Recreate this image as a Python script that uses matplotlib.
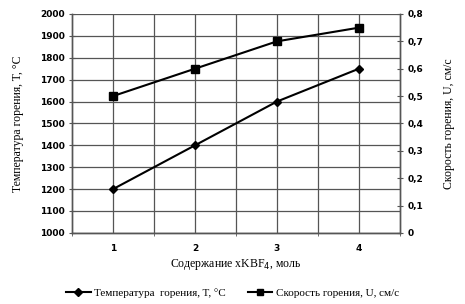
import matplotlib
matplotlib.use("Agg")
import matplotlib.pyplot as plt
from matplotlib.lines import Line2D

x = [1, 2, 3, 4]
temperature = [1200, 1400, 1600, 1750]
speed = [0.5, 0.6, 0.7, 0.75]
x_labels = ["1", "2", "3", "4"]

fig = plt.figure(figsize=(4.65, 3.04), dpi=100)
ax = fig.add_axes([0.155, 0.234, 0.705, 0.72])
ax2 = ax.twinx()

grid_c = "#555555"
ax.set_xlim(0.5, 4.5)
ax.set_ylim(1000, 2000)
ax.set_yticks(range(1000, 2001, 100))
ax2.set_ylim(0, 0.8)
ax2.set_yticks([i / 10 for i in range(9)])
ax2.set_yticklabels(["0"] + [f"0,{i}" for i in range(1, 9)])

ax.set_xticks(x)
ax.set_xticklabels(x_labels)
ax.set_xticks([0.5, 1.5, 2.5, 3.5, 4.5], minor=True)
ax.tick_params(axis="x", which="major", length=0, pad=8)
ax.tick_params(axis="x", which="minor", length=4, direction="inout", color=grid_c)
ax.tick_params(axis="y", length=5, direction="inout", color=grid_c, pad=3)
ax2.tick_params(axis="y", length=5, direction="inout", color=grid_c, pad=3)

for v in range(1000, 2001, 100):
    ax.axhline(v, color=grid_c, lw=0.9, zorder=0)
for v in [1, 1.5, 2, 2.5, 3, 3.5, 4]:
    ax.axvline(v, color=grid_c, lw=0.9, zorder=0)

for a in (ax, ax2):
    a.spines["top"].set_visible(False)
    for s in a.spines.values():
        s.set_color(grid_c)
        s.set_linewidth(1.0)

for lab in ax.get_yticklabels() + ax2.get_yticklabels() + ax.get_xticklabels():
    lab.set_fontfamily("DejaVu Sans")
    lab.set_fontweight("bold")
    lab.set_fontsize(6.5)

ax.plot(x, temperature, color="black", lw=1.5, marker="D", ms=4.5, zorder=3)
ax2.plot(x, speed, color="black", lw=1.5, marker="s", ms=6, zorder=3)

serif = "Liberation Serif"
ax.set_ylabel("Температура горения, T, °C", family=serif, fontsize=8.5, labelpad=11)
ax2.set_ylabel("Скорость горения, U, см/с", family=serif, fontsize=8.5, labelpad=14)
ax.set_xlabel("Содержание xKBF$_4$, моль", family=serif, fontsize=8.5, labelpad=3)

handles = [
    Line2D([], [], color="black", lw=1.5, marker="D", ms=4),
    Line2D([], [], color="black", lw=1.5, marker="s", ms=5),
]
fig.legend(handles, ["Температура  горения, T, °C", "Скорость горения, U, см/с"],
           loc="center", bbox_to_anchor=(0.5, 0.035), ncol=2, frameon=False,
           prop=dict(family=serif, size=8), handlelength=2.2, handletextpad=0.3,
           columnspacing=2.0)

fig.savefig("out.png", dpi=100)
